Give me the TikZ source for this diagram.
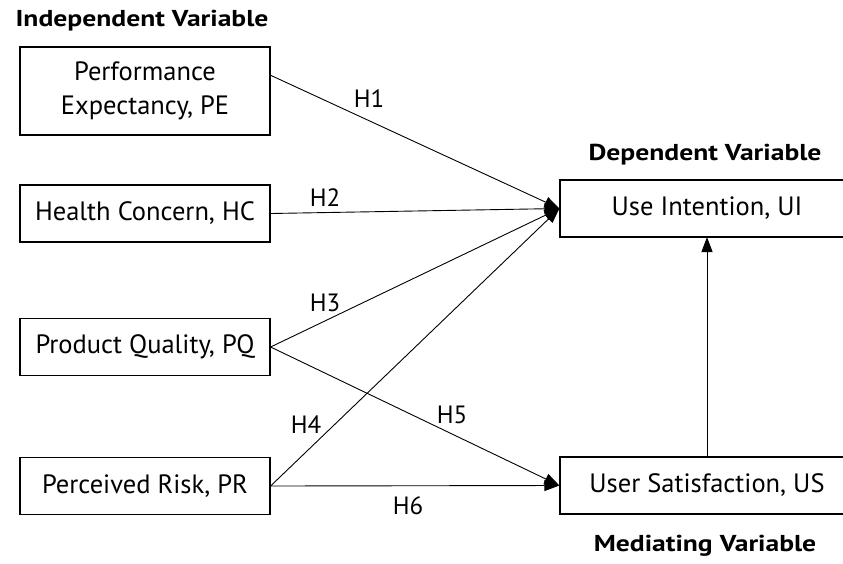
\documentclass[tikz,border=0pt]{standalone}
\usepackage{fontspec}
\setmainfont{PT Sans}
\newfontfamily\ttlfont[FakeStretch=1.2]{PT Sans}
\usetikzlibrary{arrows.meta}
\begin{document}
\begin{tikzpicture}[x=1pt,y=-1pt,
  box/.style={draw,line width=1.2pt,minimum height=57pt,inner sep=0pt,font=\fontsize{26.5}{34}\selectfont},
  lab/.style={font=\fontsize{25}{30}\selectfont,inner sep=0pt},
  ttl/.style={font=\ttlfont\bfseries\fontsize{23}{28}\selectfont,inner sep=0pt},
  arr/.style={-{Triangle[length=15pt,width=11pt]},line width=0.9pt}]
\useasboundingbox (0,0) rectangle (843,563);
\node[ttl] (tind) at (142,21) {Independent Variable};
\node[box,minimum width=250pt,minimum height=88pt,align=center] (pe) at (145,91) {Performance\\Expectancy, PE};
\node[box,minimum width=250pt] (hc) at (145,213.5) {Health Concern, HC};
\node[box,minimum width=250pt] (pq) at (145,347) {Product Quality, PQ};
\node[box,minimum width=250pt] (pr) at (145,486) {Perceived Risk, PR};
\node[box,minimum width=294pt] (ui) at (707,208.5) {Use Intention, UI};
\node[box,minimum width=294pt] (us) at (707,485.5) {User Satisfaction, US};
\node[ttl] (tdep) at (705,155) {Dependent Variable};
\node[ttl] (tmed) at (705,546) {Mediating Variable};
\coordinate (pes) at (270,75);
\coordinate (uss) at (707,457);
\coordinate (uie) at (707,237);
\draw[arr] (pes) -- (ui.west);
\draw[arr] (hc.east) -- (ui.west);
\draw[arr] (pq.east) -- (ui.west);
\draw[arr] (pr.east) -- (ui.west);
\draw[arr] (pq.east) -- (us.west);
\draw[arr] (pr.east) -- (us.west);
\draw[arr] (uss) -- (uie);
\node[lab] (h1) at (369,99) {H1};
\node[lab] (h2) at (325,198) {H2};
\node[lab] (h3) at (325,303) {H3};
\node[lab] (h4) at (306,425) {H4};
\node[lab] (h5) at (452,415) {H5};
\node[lab] (h6) at (408,506) {H6};
\end{tikzpicture}
\end{document}
